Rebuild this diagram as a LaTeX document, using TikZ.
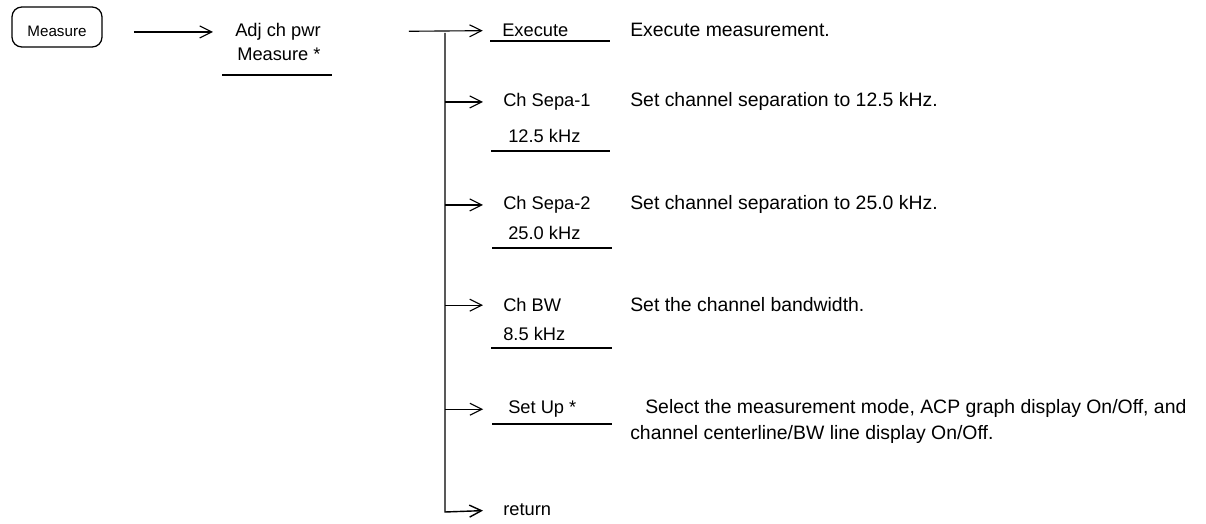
\documentclass[tikz,border=0pt]{standalone}
\usepackage{fontspec}
\setmainfont{Liberation Sans}
\usetikzlibrary{arrows.meta}

\begin{document}
\begin{tikzpicture}[
    x=0.025cm, y=-0.025cm,
    font=\fontsize{13}{15}\selectfont,
    keybox/.style={rectangle, draw, rounded corners=7pt, minimum width=2.25cm, minimum height=1cm, font=\fontsize{10.8}{12}\selectfont, text height=1.4em, line width=0.9pt},
    item/.style={anchor=mid west, inner sep=0pt},
    desc/.style={anchor=mid west, inner sep=0pt, font=\fontsize{13.8}{16}\selectfont},
    arrow/.style={-{Straight Barb[length=3mm, width=3mm]}, line width=0.8pt},
    uline/.style={line width=0.9pt}
]
    \useasboundingbox (0,0) rectangle (1206,524);

    % Panel key
    \node[keybox] (measure) at (57,27) {Measure};

    % First level menu
    \node[item] (adj) at (235,33) {Adj ch pwr};
    \node[item] (adjm) at (237,57) {Measure *};
    \draw[uline] (222,75) -- (332,75);
    \draw[arrow, shorten <=0.78cm, shorten >=0.55cm] (measure.east |- adj) -- (adj.west);

    % Soft keys
    \node[item] (exec) at (502,33) {Execute};
    \draw[uline] (490,41) -- (610,41);

    \node[item] (sepa1) at (503,103) {Ch Sepa-1};
    \node[item] (sepa1v) at (508,139) {12.5 kHz};
    \draw[uline] (491,151) -- (610,151);

    \node[item] (sepa2) at (503,206) {Ch Sepa-2};
    \node[item] (sepa2v) at (508,236) {25.0 kHz};
    \draw[uline] (492,248) -- (612,248);

    \node[item] (bw) at (503,308) {Ch BW};
    \node[item] (bwv) at (503,337) {8.5 kHz};
    \draw[uline] (491,348) -- (612,348);

    \node[item] (setup) at (508,410) {Set Up *};
    \draw[uline] (492,424) -- (612,424);

    \node[item] (ret) at (503,512) {return};

    % Trunk
    \coordinate (top) at (445,33);
    \coordinate (bot) at (445,512);
    \draw[arrow, shorten <=2.2cm, shorten >=0.48cm] (adj.east) -- (exec.west);
    \draw[arrow, line width=1pt, shorten >=0.5cm] (top) -- (bot) -- (ret.west);
    \draw[arrow, shorten >=0.5cm] (top |- sepa1) -- (sepa1.west);
    \draw[arrow, shorten >=0.5cm] (top |- sepa2) -- (sepa2.west);
    \draw[arrow, shorten >=0.5cm] (top |- bw) -- (bw.west);
    \draw[arrow, shorten >=0.62cm] (top |- setup) -- (setup.west);

    % Descriptions
    \node[desc] (d-exec) at (630,33) {Execute measurement.};
    \node[desc] (d-sepa1) at (630,103) {Set channel separation to 12.5 kHz.};
    \node[desc] (d-sepa2) at (630,206) {Set channel separation to 25.0 kHz.};
    \node[desc] (d-bw) at (630,308) {Set the channel bandwidth.};
    \node[desc] (d-setup) at (645,410) {Select the measurement mode, ACP graph display On/Off, and};
    \node[desc] (d-setup2) at (630,436) {channel centerline/BW line display On/Off.};
\end{tikzpicture}
\end{document}
